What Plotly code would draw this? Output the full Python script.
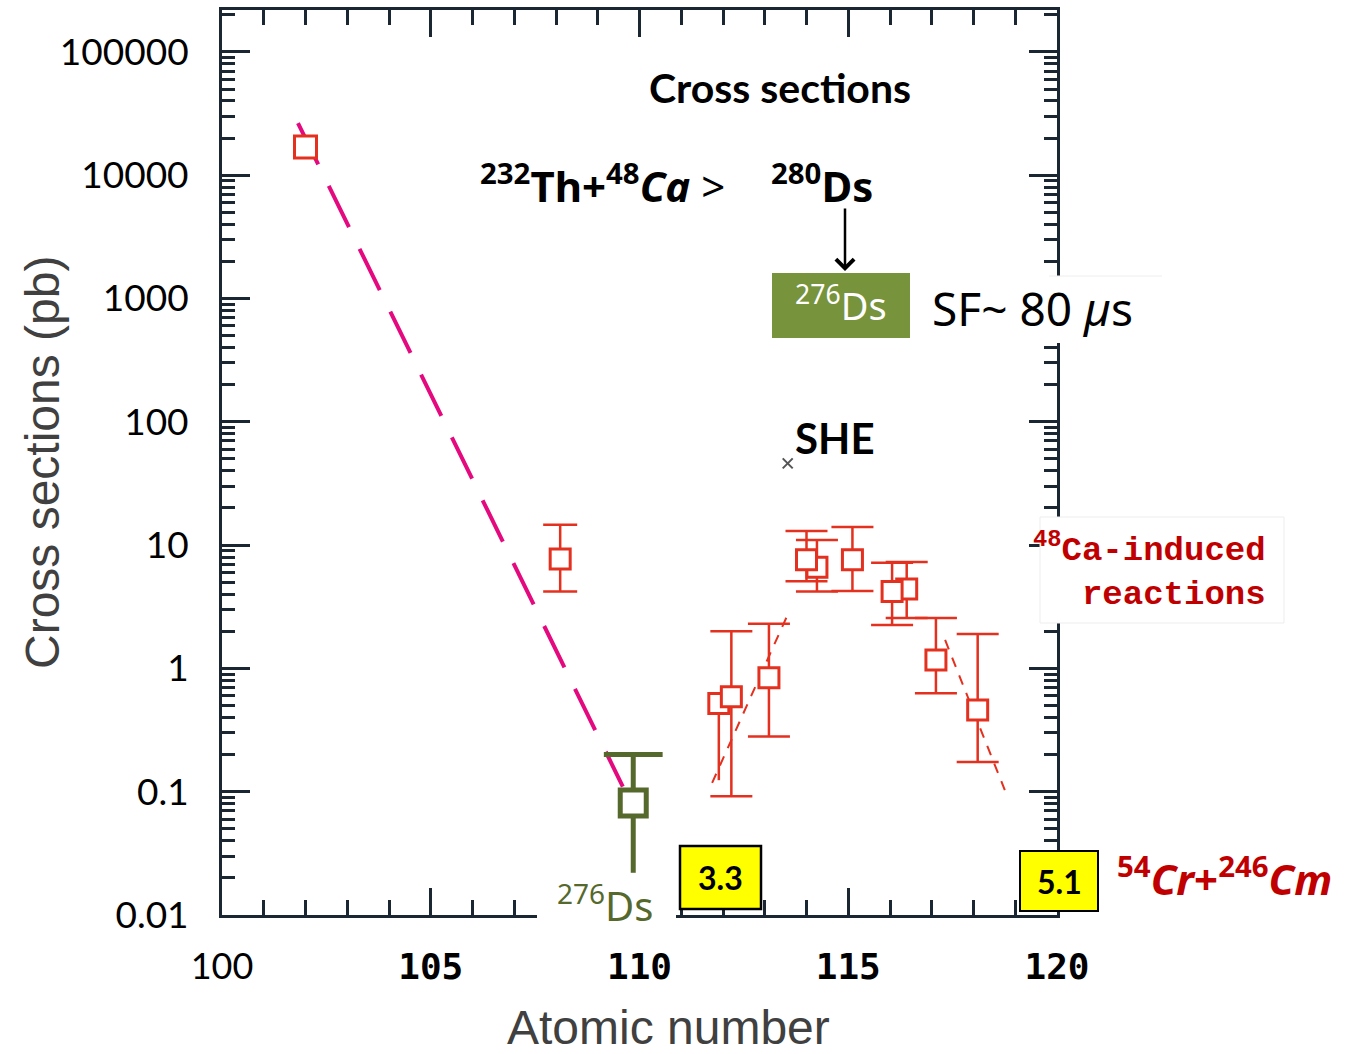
import plotly.graph_objects as go

# ---------------------------------------------------------------- data ----
# Cold-fusion point (Z = 102)
cold_z = [102.0]
cold_sigma = [16900]

# 48Ca-induced and related reactions, cross sections in pb with error limits
ca_a_z = [108.1]
ca_a_sigma = [7.7]
ca_a_upper = [14.6]
ca_a_lower = [4.2]

ca_z = [112.2, 113.1, 114.25, 114.0, 115.1, 116.4, 116.05, 117.1, 118.1]
ca_sigma = [0.59, 0.84, 6.6, 7.6, 7.6, 4.4, 4.2, 1.17, 0.46]
ca_upper = [2.0, 2.3, 11.0, 13.0, 14.0, 7.3, 7.2, 2.56, 1.9]
ca_lower = [0.092, 0.28, 4.2, 5.1, 4.25, 2.56, 2.25, 0.63, 0.174]

# point with a lower whisker only
ca_low_z = [111.9]
ca_low_sigma = [0.52]
ca_low_lower = [0.124]

# 232Th + 48Ca -> 276Ds
ds_z = [109.85]
ds_sigma = [0.081]
ds_upper = [0.2]
ds_lower = [0.022]

# systematic fall-off of cold-fusion cross sections
trend_z = [101.82, 109.6]
trend_sigma = [26500, 0.11]

# flanks of the dashed model curve
model_z = [111.74, 113.6, None, 117.32, 118.75]
model_sigma = [0.118, 2.98, None, 1.7, 0.103]

# SHE marker
she_z = [113.55]
she_sigma = [46]

# axis ticks
x_tick_vals = [100, 105, 110, 115, 120]
x_tick_text = ['<span style="font-family:Lato;font-weight:normal">100</span>',
               "<b>105</b>", "<b>110</b>", "<b>115</b>", "<b>120</b>"]
x_minor_vals = [z for z in range(101, 120) if z % 5]
y_tick_vals = [0.01, 0.1, 1, 10, 100, 1000, 10000, 100000]
y_tick_text = ["0.01", "0.1", "1", "10", "100", "1000", "10000", "100000"]
y_minor_vals = [m * 10.0 ** e for e in range(-2, 6) for m in range(2, 10)]

# --------------------------------------------------------------- style ----
RED = "#e3301f"
GREEN = "#56692c"
MAGENTA = "#e5097f"
FRAME = "#1b2633"
DARKRED = "#c00000"

L, R, T, B = 222, 1057, 10, 915
W, H = R - L, B - T


def px(x):
    return (x - L) / W


def py(y):
    return (B - y) / H


fig = go.Figure()

fig.add_trace(go.Scatter(
    x=trend_z, y=trend_sigma, mode="lines",
    line=dict(color=MAGENTA, width=4, dash="46px,24px"),
    hoverinfo="skip"))

fig.add_trace(go.Scatter(
    x=model_z, y=model_sigma, mode="lines", connectgaps=False,
    line=dict(color=RED, width=2, dash="10px,9px"),
    hoverinfo="skip"))

sq_red = dict(symbol="square", size=20, color="white",
              line=dict(color=RED, width=3))

fig.add_trace(go.Scatter(
    x=ca_low_z, y=ca_low_sigma, mode="markers", marker=sq_red,
    error_y=dict(type="data", symmetric=False,
                 array=[0 for _ in ca_low_sigma],
                 arrayminus=[s - l for s, l in zip(ca_low_sigma, ca_low_lower)],
                 width=0, thickness=2.5, color=RED)))

fig.add_trace(go.Scatter(
    x=ca_z, y=ca_sigma, mode="markers", marker=sq_red,
    error_y=dict(type="data", symmetric=False,
                 array=[u - s for u, s in zip(ca_upper, ca_sigma)],
                 arrayminus=[s - l for s, l in zip(ca_sigma, ca_lower)],
                 width=21, thickness=2.5, color=RED)))

fig.add_trace(go.Scatter(
    x=ca_a_z, y=ca_a_sigma, mode="markers", marker=sq_red,
    error_y=dict(type="data", symmetric=False,
                 array=[u - s for u, s in zip(ca_a_upper, ca_a_sigma)],
                 arrayminus=[s - l for s, l in zip(ca_a_sigma, ca_a_lower)],
                 width=17, thickness=2.5, color=RED)))

fig.add_trace(go.Scatter(
    x=cold_z, y=cold_sigma, mode="markers",
    marker=dict(symbol="square", size=22, color="white",
                line=dict(color=RED, width=3))))

# 276Ds: whisker, top cap and open square
fig.add_trace(go.Scatter(
    x=ds_z + ds_z, y=ds_lower + ds_upper, mode="lines",
    line=dict(color=GREEN, width=5), hoverinfo="skip"))
fig.add_trace(go.Scatter(
    x=ds_z, y=ds_upper, mode="markers",
    marker=dict(symbol="line-ew", size=42, line=dict(color=GREEN, width=5))))
fig.add_trace(go.Scatter(
    x=ds_z, y=ds_sigma, mode="markers",
    marker=dict(symbol="square", size=26, color="white",
                line=dict(color=GREEN, width=5))))

fig.add_trace(go.Scatter(
    x=she_z, y=she_sigma, mode="markers",
    marker=dict(symbol="x-thin", size=10, line=dict(color="#555555", width=2))))

# ------------------------------------------------------------- layout ----
shapes = [
    # white patch behind the 276Ds label on the lower axis
    dict(type="rect", x0=px(537), x1=px(676), y0=py(928), y1=py(878),
         fillcolor="white", line=dict(width=0)),
    # green nuclide box
    dict(type="rect", x0=px(772), x1=px(910), y0=py(338), y1=py(273),
         fillcolor="#77933c", line=dict(width=0)),
    # half-life box over the right axis
    dict(type="rect", x0=px(912), x1=px(1162), y0=py(343), y1=py(276),
         fillcolor="white", line=dict(width=0)),
    dict(type="line", x0=px(1049), x1=px(1162), y0=py(276), y1=py(276),
         line=dict(color="#eeeeee", width=1)),
    # reaction label box over the right axis
    dict(type="rect", x0=px(1040), x1=px(1284), y0=py(623), y1=py(517),
         fillcolor="white", line=dict(color="#ededed", width=1)),
    # yellow value boxes
    dict(type="rect", x0=px(680), x1=px(761), y0=py(909), y1=py(846),
         fillcolor="#ffff00", line=dict(color="black", width=2.5)),
    dict(type="rect", x0=px(1020), x1=px(1098), y0=py(911), y1=py(851),
         fillcolor="#ffff00", line=dict(color="black", width=2)),
]
for s in shapes:
    s.update(xref="paper", yref="paper", layer="above")

COMIC = "Noto Sans"


def note(text, x, y, size, color="black", family=COMIC, xanchor="center",
         align="center", **kw):
    return dict(text=text, x=px(x), y=py(y), xref="paper", yref="paper",
                xanchor=xanchor, yanchor="middle", align=align,
                showarrow=False, font=dict(size=size, color=color, family=family),
                **kw)


annotations = [
    note("<b>Cross sections</b>", 780, 88, 41, family="Lato"),
    note("<b><sup>232</sup>Th+<sup>48</sup><i>Ca</i></b> &gt;", 478, 183, 42,
         xanchor="left", align="left"),
    note("<b><sup>280</sup>Ds</b>", 822, 183, 42),
    note("<sup>276</sup>Ds", 841, 303, 38, color="white"),
    note("SF~ 80 <i>µ</i>s", 930, 308, 46, xanchor="left", align="left"),
    note("<b>SHE</b>", 835, 438, 42, family="Lato"),
    note("<b><sup>48</sup>Ca-induced<br>reactions</b>", 1268, 570, 34,
         color=DARKRED, family="Liberation Mono", xanchor="right", align="right"),
    note("<b>3.3</b>", 720, 877, 32, family="Lato"),
    note("<b>5.1</b>", 1059, 881, 32, family="Lato"),
    note("<b><sup>54</sup><i>Cr</i>+<sup>246</sup><i>Cm</i></b>", 1224, 876, 42,
         color=DARKRED),
    note("<sup>276</sup>Ds", 605, 903, 40, color=GREEN),
    note("Atomic number", 668, 1027, 48, color="#404040", family="Liberation Sans"),
    note("Cross sections (pb)", 42, 463, 48, color="#404040",
         family="Liberation Sans", textangle=-90),
    # arrow 280Ds -> 276Ds
    dict(x=px(845), y=py(271), ax=0, ay=-64, xref="paper", yref="paper",
         axref="pixel", ayref="pixel", text="", showarrow=True,
         arrowhead=4, arrowsize=1.4, arrowwidth=2.5, arrowcolor="black"),
]

axis_common = dict(showgrid=False, zeroline=False, showline=True,
                   linecolor=FRAME, linewidth=3, mirror="allticks",
                   ticks="inside", tickcolor=FRAME, tickwidth=2.5)

fig.update_layout(
    width=1347, height=1054,
    margin=dict(l=L, r=1347 - R, t=T, b=1054 - B, autoexpand=False),
    paper_bgcolor="white", plot_bgcolor="white",
    showlegend=False,
    xaxis=dict(range=[100, 120], tickmode="array", tickvals=x_tick_vals,
               ticktext=x_tick_text, ticklen=27, ticklabelstandoff=18,
               tickfont=dict(family="DejaVu Sans Mono", size=36, color="black"),
               minor=dict(ticks="inside", tickvals=x_minor_vals, ticklen=15,
                          tickcolor=FRAME, tickwidth=2.5),
               **axis_common),
    yaxis=dict(type="log", range=[-2, 5.34], tickmode="array",
               tickvals=y_tick_vals, ticktext=y_tick_text, ticklen=28,
               ticklabelstandoff=23,
               tickfont=dict(family="Lato", size=37, color="black"),
               minor=dict(ticks="inside", tickvals=y_minor_vals, ticklen=13,
                          tickcolor=FRAME, tickwidth=2.5),
               **axis_common),
    shapes=shapes,
    annotations=annotations,
)

fig.write_html("out.html")
